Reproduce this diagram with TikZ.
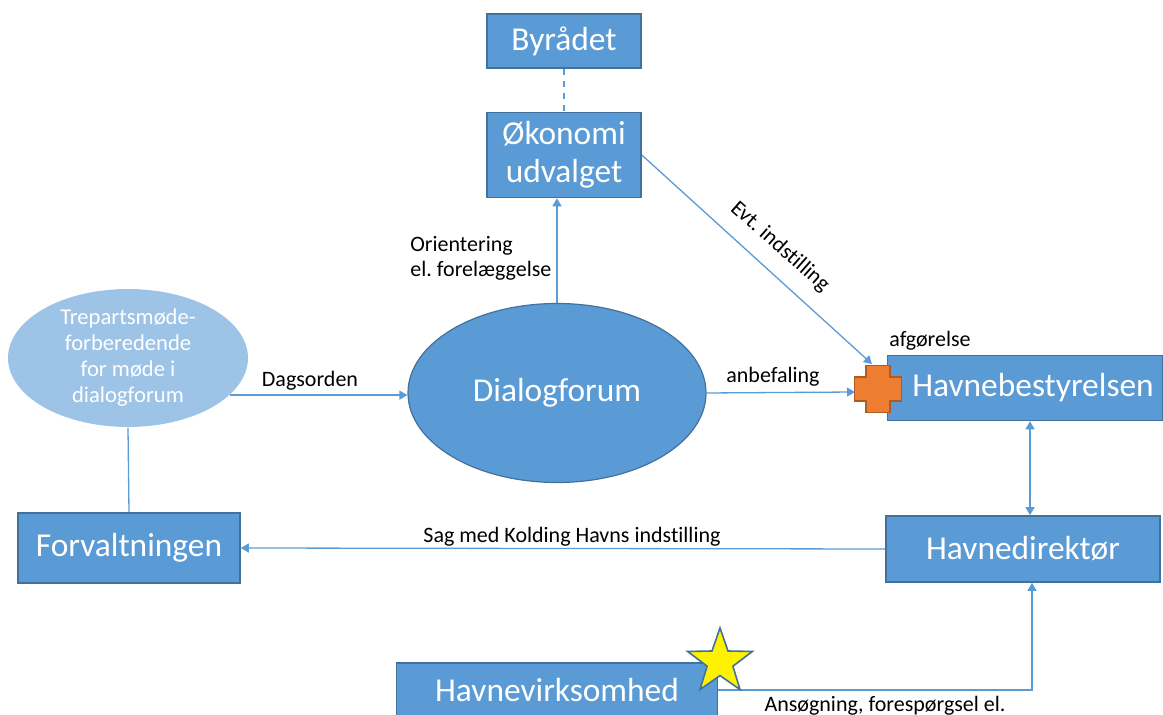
\documentclass[tikz,border=0pt]{standalone}
\usepackage{fontspec}
\setmainfont[Ligatures=NoCommon]{Carlito}
\usetikzlibrary{arrows.meta,shapes.geometric}
\frenchspacing

\definecolor{boxblue}{HTML}{5B9BD5}
\definecolor{boxedge}{HTML}{41719C}
\definecolor{lightblue}{HTML}{9DC3E6}
\definecolor{plusfill}{HTML}{ED7D31}
\definecolor{plusedge}{HTML}{AE5A21}

\tikzset{
    box/.style={draw=boxedge, line width=0.8pt, fill=boxblue, text=white, inner sep=0pt,
        align=center, font=\fontsize{16.7}{19}\selectfont},
    oval/.style={ellipse, fill=boxblue, draw=boxedge, line width=0.6pt, text=white, inner sep=0pt,
        font=\fontsize{16.7}{19}\selectfont},
    lbl/.style={text=black, inner sep=0pt, font=\fontsize{11}{12.5}\selectfont},
    conn/.style={draw=boxblue, line width=0.65pt},
    arr/.style={conn, -{Triangle[width=4.5pt,length=4pt]}},
}

\begin{document}
\begin{tikzpicture}[x=0.5pt,y=-0.5pt]
    \useasboundingbox (0,0) rectangle (1163,715);

    % Boxes
    \node[box, minimum width=77pt, minimum height=27pt] (byraadet) at (564,41) {Byrådet};
    \node[box, minimum width=77pt, minimum height=42.5pt] (oekonomi) at (564,155) {Økonomi\\udvalget};
    \node[box, minimum width=111pt, minimum height=35pt] (forv) at (129,548) {Forvaltningen};
    \node[box, minimum width=137pt, minimum height=33pt] (havnedir) at (1023,549) {Havnedirektør};
    \node[box, minimum width=137.5pt, minimum height=32.5pt] (havnebest) at (1025,388) {\hspace{8pt}Havnebestyrelsen};
    \node[box, minimum width=160.5pt, minimum height=27pt] (havnevirk) at (557,690) {Havnevirksomhed};

    % Ellipses
    \node[oval, minimum width=149pt, minimum height=89.5pt] (dialog) at (557,393) {Dialogforum};
    \node[oval, draw=none, fill=lightblue, minimum width=120pt, minimum height=59pt,
        align=center, font=\fontsize{11.3}{13}\selectfont] (trepart) at (128,358)
        {Trepartsmøde-\\forberedende\\for møde i\\dialogforum};

    % Cross
    \coordinate (plus) at (878,389);
    \coordinate (plusleft) at (855,392);
    \coordinate (plustop) at (872,364);
    \draw[fill=plusfill, draw=plusedge, line width=0.8pt] (plus)
        +(-12,23.5) -- +(12,23.5) -- +(12,12) -- +(23.5,12) -- +(23.5,-12) -- +(12,-12)
        -- +(12,-23.5) -- +(-12,-23.5) -- +(-12,-12) -- +(-23.5,-12) -- +(-23.5,12) -- +(-12,12) -- cycle;

    % Connectors
    \draw[conn, dashed] (byraadet.south) -- (oekonomi.north);
    \draw[arr] (dialog.north) -- (dialog.north |- oekonomi.south);
    \draw[arr] (oekonomi.east) -- (plustop);
    \draw[arr] (dialog.east) -- (plusleft);
    \draw[arr] (trepart.-20) -- (trepart.-20 -| dialog.west);
    \draw[conn] (trepart.south) -- (forv.north);
    \draw[arr] (havnedir.west) -- (forv.east);
    \draw[arr, {Triangle[width=4.5pt,length=4pt]}-{Triangle[width=4.5pt,length=4pt]}]
        ([xshift=2.5pt]havnebest.south) -- ([xshift=3.5pt]havnedir.north);
    \draw[arr] (havnevirk.east) -| ([xshift=4.5pt]havnedir.south);

    % Star
    \node[star, star points=5, star point ratio=2.5, minimum size=34pt, inner sep=0pt,
        fill=yellow, draw=boxedge, line width=0.8pt] (star) at (720,662) {};

    % Labels
    \node[lbl, anchor=west, align=left] (orient) at (410,258) {Orientering\\el. forelæggelse};
    \node[lbl] (dagsorden) at (310,381) {Dagsorden};
    \node[lbl] (anbef) at (773,377) {anbefaling};
    \node[lbl] (afgoer) at (930,341) {afgørelse};
    \node[lbl, rotate=-41.5] (evt) at (780,247) {Evt. indstilling};
    \node[lbl] (sag) at (572,537) {Sag med Kolding Havns indstilling};
    \node[lbl] (ansoeg) at (885,706) {Ansøgning, forespørgsel el.};
\end{tikzpicture}
\end{document}
